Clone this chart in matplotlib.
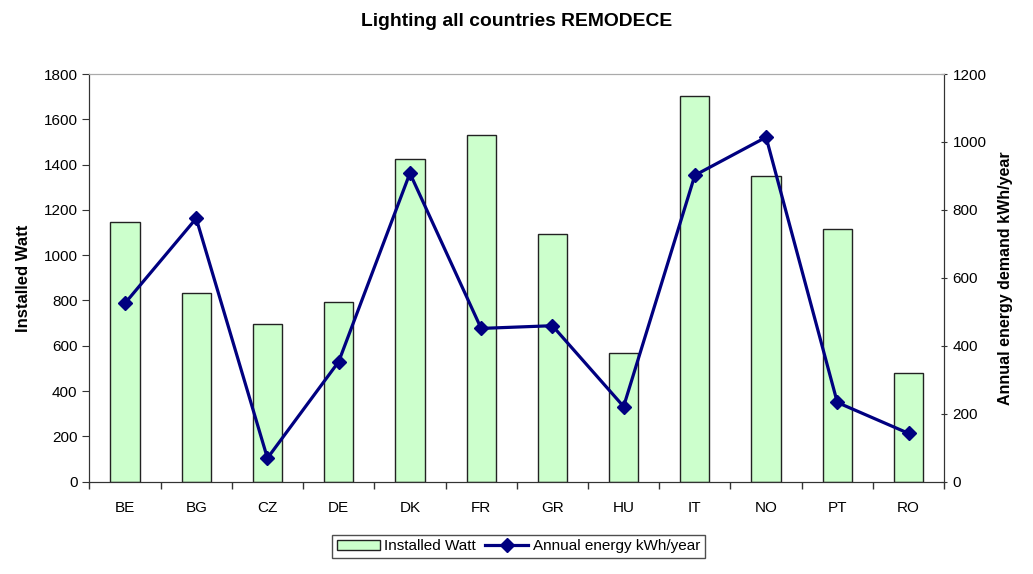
import matplotlib
matplotlib.use("Agg")
import matplotlib.pyplot as plt
import numpy as np

plt.rcParams['font.family'] = ['Liberation Sans', 'DejaVu Sans']

countries = ["BE", "BG", "CZ", "DE", "DK", "FR", "GR", "HU", "IT", "NO", "PT", "RO"]
installed_watt = [1145, 832, 695, 792, 1426, 1529, 1095, 570, 1703, 1348, 1116, 479]
annual_energy = [525, 775, 69, 353, 908, 451, 459, 221, 902, 1014, 233, 142]

fig = plt.figure(figsize=(10.33, 5.74), dpi=100)
ax = fig.add_axes([0.0865, 0.161, 0.8275, 0.710])
ax2 = ax.twinx()

x = np.arange(len(countries))
bars = ax.bar(x, installed_watt, width=0.41, color="#CCFFCC", edgecolor="#222222",
              linewidth=1.0, label="Installed Watt", zorder=2)
line, = ax2.plot(x, annual_energy, color="#000080", linewidth=2.3, marker="D",
                 markersize=7, label="Annual energy kWh/year", zorder=3)

ax.set_xlim(-0.5, len(countries) - 0.5)
ax.set_ylim(0, 1800)
ax.set_yticks(np.arange(0, 1801, 200))
ax2.set_ylim(0, 1200)
ax2.set_yticks(np.arange(0, 1201, 200))

ax.set_xticks(x)
ax.set_xticklabels(countries, fontsize=11)
ax.set_xticks(np.arange(-0.5, len(countries), 1.0), minor=True)
ax.tick_params(axis="x", which="major", length=0, pad=14)
ax.tick_params(axis="x", which="minor", length=5, direction="out", width=1, color="#333333")
ax.tick_params(axis="y", labelsize=11, length=5, direction="out", color="#333333")
ax2.tick_params(axis="y", labelsize=11, length=5, direction="inout", color="#333333")

for a in (ax, ax2):
    a.spines["top"].set_color("#aaaaaa")
    a.spines["left"].set_color("#333333")
    a.spines["right"].set_color("#333333")
    a.spines["bottom"].set_color("#333333")

ax.set_ylabel("Installed Watt", fontsize=12, fontweight="bold", labelpad=9)
ax2.set_ylabel("Annual energy demand kWh/year", fontsize=11.5, fontweight="bold", labelpad=8)
fig.text(0.5, 0.962, "Lighting all countries REMODECE", ha="center", va="center",
         fontsize=13.9, fontweight="bold")

leg = fig.legend([bars, line], ["Installed Watt", "Annual energy kWh/year"],
                 loc="center", bbox_to_anchor=(0.502, 0.048), ncol=2, fontsize=11,
                 frameon=True, fancybox=False, edgecolor="#222222", handlelength=2.8,
                 handletextpad=0.3, columnspacing=0.6, borderpad=0.3)
leg.get_frame().set_linewidth(1.0)

fig.savefig("out.png", dpi=100)
